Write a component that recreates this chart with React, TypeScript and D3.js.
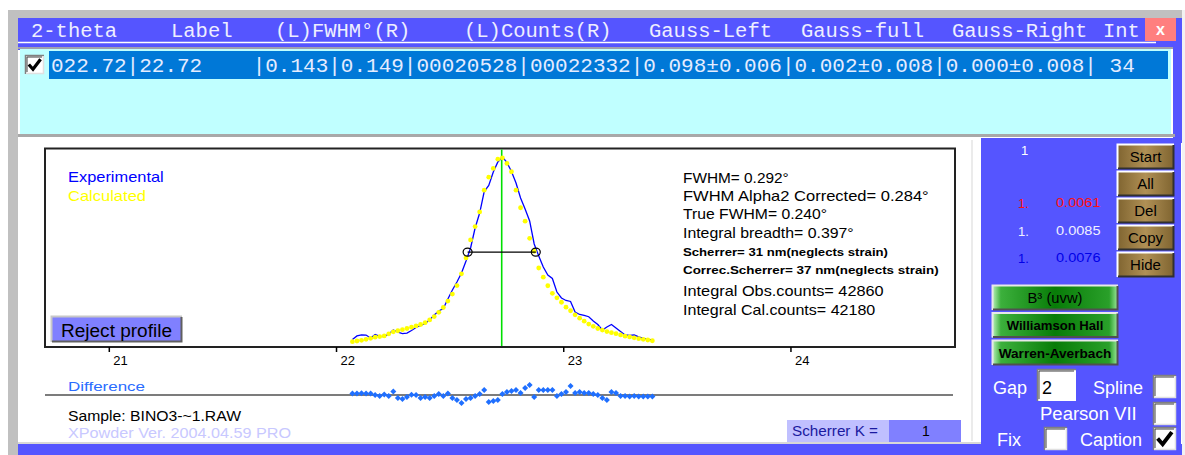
import React from 'react';
import * as d3 from 'd3';

// ---------- data ----------
const twoTheta = [
  22.07, 22.09, 22.11, 22.13, 22.15, 22.17, 22.19, 22.21, 22.23, 22.25,
  22.27, 22.29, 22.31, 22.33, 22.35, 22.37, 22.39, 22.41, 22.43, 22.45,
  22.47, 22.49, 22.51, 22.53, 22.55, 22.57, 22.59, 22.61, 22.63, 22.65,
  22.67, 22.69, 22.71, 22.73, 22.75, 22.77, 22.79, 22.81, 22.83, 22.85,
  22.87, 22.89, 22.91, 22.93, 22.95, 22.97, 22.99, 23.01, 23.03, 23.05,
  23.07, 23.09, 23.11, 23.13, 23.15, 23.17, 23.19, 23.21, 23.23, 23.25,
  23.27, 23.29, 23.31, 23.33, 23.35, 23.37, 23.39,
];
const experimental = [
  660, 1080, 1200, 1190, 840, 1260, 1020, 1010, 1320, 1790,
  1550, 1370, 1430, 1730, 2090, 2330, 2570, 2990, 3590, 4060,
  4360, 5500, 6570, 7530, 8600, 10040, 11590, 13980, 15770, 18340,
  19060, 20670, 21870, 22470, 21810, 20730, 19360, 17570, 16250, 14820,
  12070, 10640, 9320, 8370, 7950, 6330, 5620, 5320, 5200, 3940,
  3650, 3530, 3380, 2870, 2450, 1790, 2150, 2450, 2030, 1610,
  1200, 1140, 1200, 960, 780, 680, 600,
];
const calculated = [
  400, 480, 560, 680, 800, 940, 1010, 1090, 1330, 1570,
  1700, 1830, 1970, 2120, 2280, 2450, 2670, 3000, 3400, 3900,
  4480, 5250, 6080, 7100, 8500, 10400, 12550, 14150, 15900, 18500,
  20050, 21100, 22200, 22350, 21700, 20700, 18500, 16400, 14800, 12750,
  11200, 9200, 8100, 7080, 6170, 5640, 5110, 4520, 4090, 3600,
  3200, 2850, 2500, 2230, 1970, 1780, 1610, 1470, 1350, 1200,
  1060, 970, 860, 760, 680, 600, 510,
];
const difference = [
  380, 360, 420, 380, 350, 0, -250, 100, -250, 880,
  -750, -1000, -500, 50, 0, -750, -500, -750, -250, 250,
  -250, 380, -750, -1250, -2000, -1000, -750, -250, 250, 1250,
  -1750, -1500, -1250, 250, 750, 1000, 1250, 500, 1750, 2500,
  -500, 1250, 1250, 1250, 1250, -250, 250, 750, 2250, 500,
  750, 500, 500, 250, 0, -750, -1250, 750, 500, -250,
  -250, -380, -250, -380, -380, -380, -380,
];
const xTicks = [21, 22, 23, 24];
const peakPosition = 22.727;
const fwhmLeft = 22.577;
const fwhmRight = 22.877;
const halfMaximum = 11100;

const headerLabels = ['2-theta', 'Label', '(L)FWHM°(R)', '(L)Counts(R)', 'Gauss-Left', 'Gauss-full', 'Gauss-Right', 'Int'];
const rowText = '022.72|22.72    |0.143|0.149|00020528|00022332|0.098±0.006|0.002±0.008|0.000±0.008| 34';
const annotations = [
  'FWHM= 0.292°',
  'FWHM Alpha2 Corrected= 0.284°',
  'True FWHM= 0.240°',
  'Integral breadth= 0.397°',
  'Scherrer= 31 nm(neglects strain)',
  'Correc.Scherrer= 37 nm(neglects strain)',
  'Integral Obs.counts= 42860',
  'Integral Cal.counts= 42180',
];
const sideButtons = ['Start', 'All', 'Del', 'Copy', 'Hide'];
const methodButtons = ['B³ (uvw)', 'Williamson Hall', 'Warren-Averbach'];
const errorIndex = ['1.', '1.', '1.'];
const errorValues = ['0.0061', '0.0085', '0.0076'];

// ---------- layout ----------
const W = 1185;
const H = 455;
const SANS = "'Liberation Sans', Arial, sans-serif";
const MONO = "'Liberation Mono', 'Courier New', monospace";
const BLUE = '#5555ff';

function Bevel({ x, y, w, h, fill, light = '#ffffff', dark = '#404040', sw = 2 }: any) {
  return (
    <g>
      <rect x={x} y={y} width={w} height={h} fill={fill} />
      <path d={`M${x + 0.5},${y + h} V${y + 0.5} H${x + w}`} stroke={light} strokeWidth={sw} fill="none" />
      <path d={`M${x + 1},${y + h - 0.5} H${x + w - 0.5} V${y + 1}`} stroke={dark} strokeWidth={sw} fill="none" />
    </g>
  );
}

function CheckBox({ x, y, s, checked }: any) {
  return (
    <g>
      <rect x={x} y={y} width={s} height={s} fill="#ffffff" />
      <path d={`M${x + 0.5},${y + s} V${y + 0.5} H${x + s}`} stroke="#808080" strokeWidth={1.5} fill="none" />
      <path d={`M${x + 2},${y + s - 2} V${y + 2} H${x + s - 2}`} stroke="#404040" strokeWidth={1} fill="none" />
      <path d={`M${x + 1},${y + s - 0.5} H${x + s - 0.5} V${y + 1}`} stroke="#e0e0e0" strokeWidth={1.5} fill="none" />
      {checked && (
        <path
          d={`M${x + s * 0.2},${y + s * 0.5} L${x + s * 0.42},${y + s * 0.75} L${x + s * 0.82},${y + s * 0.22}`}
          stroke="#000"
          strokeWidth={s * 0.17}
          fill="none"
        />
      )}
    </g>
  );
}

export default function App() {
  const x = d3.scaleLinear().domain([20.717, 24.722]).range([45, 955]);
  const y = d3.scaleLinear().domain([0, 22500]).range([345, 156.7]);
  const yd = d3.scaleLinear().domain([-2500, 2500]).range([405, 385]);

  const expLine = d3
    .line<number>()
    .x((_, i) => x(twoTheta[i]))
    .y((d) => y(d))(experimental) as string;

  const headerX = [31, 171, 275, 464, 649, 801, 952, 1103];
  const annotY = [182.7, 201, 219.3, 238.3, 256, 274.3, 295.7, 315];
  const annotW = [105.7, 245.7, 144, 170.7, 205, 255.7, 200.7, 192.3];
  const btnY = [144, 171, 198, 225, 252];
  const errColors = ['#ff1010', '#f0f0ff', '#0000e8'];
  const errY = [206.5, 234.5, 262];
  const methY = [285, 312.5, 340];

  return (
    <svg
      width={W}
      height={H}
      style={{ position: 'absolute', left: 0, top: 0, display: 'block' }}
      xmlns="http://www.w3.org/2000/svg"
    >
      <defs>
        <linearGradient id="khaki" x1="0" y1="0" x2="1" y2="0">
          <stop offset="0" stopColor="#7f6430" />
          <stop offset="0.5" stopColor="#b09055" />
          <stop offset="1" stopColor="#7f6430" />
        </linearGradient>
        <linearGradient id="green" x1="0" y1="0" x2="1" y2="0">
          <stop offset="0" stopColor="#c0f4c0" />
          <stop offset="0.07" stopColor="#3cb03c" />
          <stop offset="0.5" stopColor="#087c08" />
          <stop offset="0.93" stopColor="#2aa02a" />
          <stop offset="1" stopColor="#a0eca0" />
        </linearGradient>
      </defs>

      {/* page background & window frame */}
      <rect x={0} y={0} width={W} height={H} fill="#ffffff" />
      <rect x={8} y={10} width={W - 8} height={8} fill="#c0c0c0" />
      <rect x={8} y={10} width={10} height={H - 10} fill="#c0c0c0" />
      <rect x={18} y={18} width={1164} height={32} fill={BLUE} />
      <rect x={1173} y={18} width={9} height={125} fill={BLUE} />
      <line x1={18} x2={1156} y1={42.5} y2={42.5} stroke="#ffffff" strokeWidth={1.5} />
      <rect x={1145} y={18} width={31} height={23} fill="#ff7f7f" />
      <text x={1160.5} y={35} fill="#ffffff" fontFamily={SANS} fontWeight="bold" fontSize={16} textAnchor="middle">
        x
      </text>
      {headerLabels.map((t, i) => (
        <text key={t} x={headerX[i]} y={37} fill="#eeeeff" fontFamily={MONO} fontSize={20.5} style={{ whiteSpace: 'pre' }}>
          {t}
        </text>
      ))}

      {/* list area */}
      <rect x={18} y={47} width={1155} height={2} fill="#a0a0b0" />
      <rect x={20} y={49} width={1151} height={85} fill="#c0ffff" />
      <rect x={1171} y={49} width={2} height={86} fill="#ffffff" />
      <rect x={49} y={51} width={1119} height={28} fill="#0078d7" />
      <CheckBox x={25} y={55} s={19} checked />
      <text x={51} y={72} fill="#e4ecff" fontFamily={MONO} fontSize={21} style={{ whiteSpace: 'pre' }}>
        {rowText}
      </text>
      <rect x={18} y={134} width={1157} height={3} fill="#a8a8a8" />

      {/* white profile panel */}
      <rect x={19} y={137} width={962} height={305} fill="#ffffff" />
      <line x1={972} x2={972} y1={140} y2={441} stroke="#e4e4e4" strokeWidth={1.5} />
      <rect x={18} y={442} width={963} height={2} fill="#d8d8d8" />
      <rect x={18} y={444} width={1164} height={11} fill={BLUE} />

      {/* plot frame */}
      <rect x={45} y={148.5} width={910} height={198.5} fill="none" stroke="#222" strokeWidth={2} />
      {xTicks.map((t) => (
        <g key={t}>
          <line x1={x(t)} x2={x(t)} y1={347} y2={352} stroke="#000" strokeWidth={1.5} />
          <text x={x(t) + 4} y={365} fontFamily={SANS} fontSize={13} fill="#000">
            {t}
          </text>
        </g>
      ))}

      {/* legend */}
      <text x={68} y={181.7} fontFamily={SANS} fontSize={14.5} fill="#0000ff" textLength={95.7} lengthAdjust="spacingAndGlyphs">
        Experimental
      </text>
      <text x={68} y={200.7} fontFamily={SANS} fontSize={14.5} fill="#ffff00" textLength={78} lengthAdjust="spacingAndGlyphs">
        Calculated
      </text>

      {/* curves */}
      <line x1={x(peakPosition)} x2={x(peakPosition)} y1={149.5} y2={346} stroke="#00e000" strokeWidth={1.6} />
      <path d={expLine} fill="none" stroke="#0000ff" strokeWidth={1.3} />
      {calculated.map((c, i) => (
        <circle key={i} cx={x(twoTheta[i])} cy={y(c)} r={2.4} fill="#ffff00" />
      ))}
      <line x1={x(fwhmLeft)} x2={x(fwhmRight)} y1={y(halfMaximum)} y2={y(halfMaximum)} stroke="#000" strokeWidth={1.3} />
      <ellipse cx={x(fwhmLeft)} cy={y(halfMaximum)} rx={4.5} ry={4} fill="none" stroke="#000" strokeWidth={1.2} />
      <ellipse cx={x(fwhmRight)} cy={y(halfMaximum)} rx={4.5} ry={4} fill="none" stroke="#000" strokeWidth={1.2} />

      {/* annotations */}
      {annotations.map((t, i) => (
        <text
          key={t}
          x={683}
          y={annotY[i]}
          fontFamily={SANS}
          fontSize={i === 4 || i === 5 ? 11.5 : 14.2}
          fontWeight={i === 4 || i === 5 ? 'bold' : 'normal'}
          fill="#000"
          textLength={annotW[i]}
          lengthAdjust="spacingAndGlyphs"
        >
          {t}
        </text>
      ))}

      {/* reject profile button */}
      <Bevel x={51} y={316} w={131} h={26} fill="#8080ff" light="#c8c8c8" dark="#606060" />
      <text x={61} y={337} fontFamily={SANS} fontSize={18} fill="#000" textLength={111} lengthAdjust="spacingAndGlyphs">
        Reject profile
      </text>

      {/* difference panel */}
      <text x={68} y={391} fontFamily={SANS} fontSize={13.5} fill="#2a6cff" textLength={77} lengthAdjust="spacingAndGlyphs">
        Difference
      </text>
      <line x1={45} x2={953} y1={395} y2={395} stroke="#505050" strokeWidth={1.5} />
      {difference.map((d, i) => {
        const cx = x(twoTheta[i]);
        const cy = yd(d);
        return <path key={i} d={`M${cx},${cy - 3} L${cx + 3},${cy} L${cx},${cy + 3} L${cx - 3},${cy} Z`} fill="#1f6fff" />;
      })}
      <text x={68} y={421} fontFamily={SANS} fontSize={14} fill="#000" textLength={173} lengthAdjust="spacingAndGlyphs">
        Sample: BINO3-~1.RAW
      </text>
      <text x={68} y={438} fontFamily={SANS} fontSize={14} fill="#c8c8ff" textLength={223} lengthAdjust="spacingAndGlyphs">
        XPowder Ver. 2004.04.59 PRO
      </text>
      <rect x={787} y={420} width={102} height={22} fill="#c0c0ff" />
      <rect x={889} y={420} width={72} height={22} fill="#8080ff" />
      <text x={792} y={435.5} fontFamily={SANS} fontSize={14} fill="#1a1aa0" textLength={86} lengthAdjust="spacingAndGlyphs">
        Scherrer K =
      </text>
      <text x={926} y={436} fontFamily={SANS} fontSize={14} fill="#000" textAnchor="middle">
        1
      </text>

      {/* right control panel */}
      <rect x={981} y={138} width={200} height={317} fill={BLUE} />
      <rect x={1182} y={10} width={3} height={445} fill="#f2f2f2" />
      <text x={1021} y={155} fontFamily={SANS} fontSize={13} fill="#ffffff">
        1
      </text>
      {sideButtons.map((b, i) => (
        <g key={b}>
          <Bevel x={1117} y={btnY[i]} w={57} h={25} fill="url(#khaki)" light="#ffffff" dark="#303030" />
          <text x={1145.5} y={btnY[i] + 18} fontFamily={SANS} fontSize={15} fill="#000" textAnchor="middle">
            {b}
          </text>
        </g>
      ))}
      {errorValues.map((v, i) => (
        <g key={i}>
          <text x={1018} y={errY[i] + 1} fontFamily={SANS} fontSize={13} fill={errColors[i]}>
            {errorIndex[i]}
          </text>
          <text x={1056} y={errY[i]} fontFamily={SANS} fontSize={13.5} fill={errColors[i]} textLength={44.5} lengthAdjust="spacingAndGlyphs">
            {v}
          </text>
        </g>
      ))}
      {methodButtons.map((b, i) => (
        <g key={b}>
          <Bevel x={992} y={methY[i]} w={126} h={25} fill="url(#green)" light="#e8e8e8" dark="#505050" />
          <text
            x={1055}
            y={methY[i] + 17.5}
            fontFamily={SANS}
            fontSize={i === 0 ? 14 : 12.5}
            fontWeight={i === 0 ? 'normal' : 'bold'}
            fill="#000"
            textAnchor="middle"
            textLength={i === 0 ? 55 : i === 1 ? 96.7 : 112.7}
            lengthAdjust="spacingAndGlyphs"
          >
            {b}
          </text>
        </g>
      ))}

      <text x={993} y={393.5} fontFamily={SANS} fontSize={18} fill="#ffffff">
        Gap
      </text>
      <rect x={1037} y={369} width={39} height={32} fill="#ffffff" />
      <path d="M1037.5,401 V369.5 H1076" stroke="#808080" strokeWidth={1.5} fill="none" />
      <path d="M1039,399 V371 H1074" stroke="#404040" strokeWidth={1} fill="none" />
      <text x={1042} y={394} fontFamily={SANS} fontSize={18} fill="#000">
        2
      </text>
      <text x={1093} y={393.5} fontFamily={SANS} fontSize={18} fill="#ffffff">
        Spline
      </text>
      <CheckBox x={1153} y={375} s={23} checked={false} />
      <text x={1040} y={420} fontFamily={SANS} fontSize={18} fill="#ffffff" textLength={96.7} lengthAdjust="spacingAndGlyphs">
        Pearson VII
      </text>
      <CheckBox x={1153} y={402} s={23} checked={false} />
      <text x={997} y={445.5} fontFamily={SANS} fontSize={18} fill="#ffffff">
        Fix
      </text>
      <CheckBox x={1044} y={427} s={23} checked={false} />
      <text x={1080} y={445.5} fontFamily={SANS} fontSize={18} fill="#ffffff">
        Caption
      </text>
      <CheckBox x={1153} y={427} s={23} checked />
    </svg>
  );
}
